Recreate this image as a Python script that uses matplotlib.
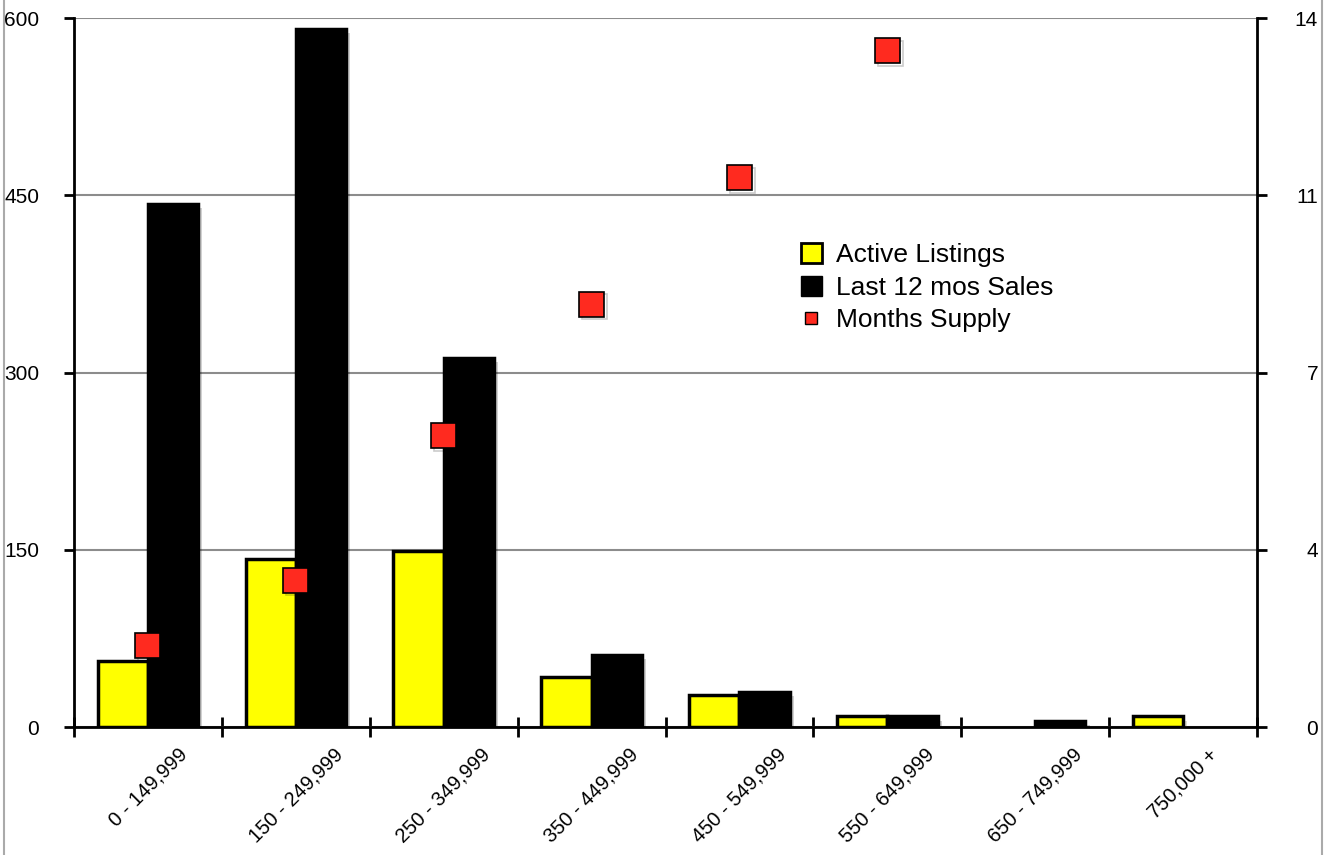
import numpy as np
import matplotlib
matplotlib.use("Agg")
import matplotlib.pyplot as plt
import matplotlib.patheffects as pe
from matplotlib.lines import Line2D
from matplotlib.patches import Patch

plt.rcParams['font.family'] = ['Liberation Sans', 'DejaVu Sans']

# data
categories = ['0 - 149,999', '150 - 249,999', '250 - 349,999', '350 - 449,999',
              '450 - 549,999', '550 - 649,999', '650 - 749,999', '750,000 +']
active_listings = [56, 142, 149, 42, 27, 9, 0, 9]
last_12_sales = [443, 591, 312, 61, 30, 9, 5, 0]
months_supply = [1.6, 2.9, 5.75, 8.35, 10.85, 13.35, np.nan, np.nan]

left_ticks = [0, 150, 300, 450, 600]
right_ticks = [0, 3.5, 7, 10.5, 14]
right_labels = ['0', '4', '7', '11', '14']

fig = plt.figure(figsize=(13.27, 8.55), dpi=100)
ax = fig.add_axes([74 / 1327, 1 - 727 / 855, 1183 / 1327, 709 / 855])

x = np.arange(len(categories))
w = 0.34
shadow = [pe.SimplePatchShadow(offset=(3, -3), alpha=0.18), pe.Normal()]
b1 = ax.bar(x - w / 2, active_listings, w, color='#ffff00', edgecolor='black',
            linewidth=2.5, zorder=3)
b2 = ax.bar(x + w / 2, last_12_sales, w, color='black', edgecolor='black',
            linewidth=2.5, zorder=3)
for b in list(b1) + list(b2):
    if b.get_height() > 0:
        b.set_path_effects(shadow)
    else:
        b.set_visible(False)

ax.set_xlim(-0.5, len(categories) - 0.5)
ax.set_ylim(0, 600)
ax.set_yticks(left_ticks)
ax.yaxis.grid(True, color='#8c8c8c', linewidth=1.5, zorder=0)
ax.set_axisbelow(True)

# ticks at category boundaries, labels at centers
ax.set_xticks(np.arange(len(categories) + 1) - 0.5)
ax.set_xticklabels([])
ax.set_xticks(x, minor=True)
ax.set_xticklabels(categories, minor=True, rotation=45, ha='center',
                   va='top', fontsize=14.5)
ax.tick_params(axis='x', which='minor', length=0, pad=13)
ax.tick_params(axis='x', which='major', direction='inout', length=14, width=2)
ax.tick_params(axis='y', direction='out', length=7, width=2, labelsize=15, pad=18)

ax.spines['top'].set_visible(False)
for s in ['left', 'right', 'bottom']:
    ax.spines[s].set_linewidth(2)

ax2 = ax.twinx()
ax2.set_ylim(0, 14)
ax2.set_yticks(right_ticks)
ax2.set_yticklabels(right_labels, ha='right')
ax2.tick_params(axis='y', direction='out', length=7, width=2, labelsize=15, pad=37)
for s in ax2.spines.values():
    s.set_visible(False)
ax2.plot(x, months_supply, linestyle='none', marker='s', markersize=18,
         markerfacecolor='#ff2a1f', markeredgecolor='black', markeredgewidth=1.2,
         zorder=5,
         path_effects=[pe.SimpleLineShadow(offset=(2, -2), alpha=0.2), pe.Normal()])

handles = [
    Patch(facecolor='#ffff00', edgecolor='black', linewidth=2),
    Patch(facecolor='black', edgecolor='black'),
    Line2D([], [], linestyle='none', marker='s', markersize=9,
           markerfacecolor='#ff2a1f', markeredgecolor='black'),
]
ax2.legend(handles, ['Active Listings', 'Last 12 mos Sales', 'Months Supply'],
           loc='upper left', bbox_to_anchor=(0.603, 0.701), frameon=False,
           fontsize=19, handlelength=0.8, handleheight=0.8, handletextpad=0.55,
           labelspacing=0.31, borderpad=0)

# thin gray frame lines at the image edges
fig.add_artist(Line2D([4 / 1327, 4 / 1327], [0, 1], color='#aaaaaa', linewidth=1.5))
fig.add_artist(Line2D([1322 / 1327, 1322 / 1327], [0, 1], color='#aaaaaa', linewidth=1.5))

fig.savefig('out.png', dpi=100)
